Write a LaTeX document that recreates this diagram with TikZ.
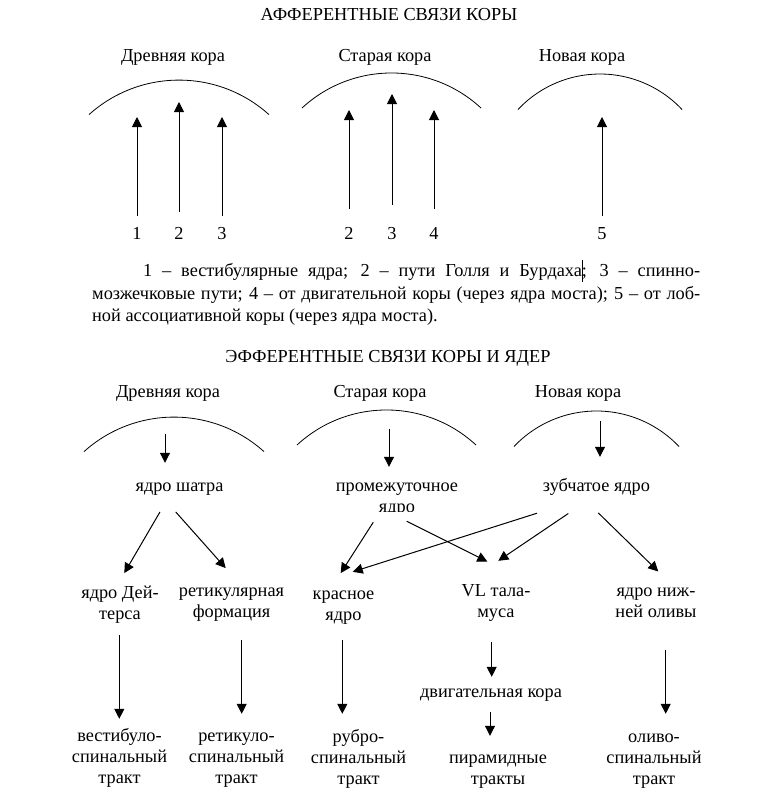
\documentclass[tikz,border=0pt]{standalone}
\usepackage{fontspec}
\setmainfont{Liberation Serif}
\usetikzlibrary{arrows.meta}
\begin{document}
\begin{tikzpicture}[x=1pt,y=-1pt,
  txt/.style={font=\fontsize{18.3}{21}\selectfont, inner sep=0pt, align=center},
  arr/.style={line width=1pt, -{Triangle[length=10pt,width=10pt]}},
  cortex/.style={line width=0.8pt}]
\useasboundingbox (0,0) rectangle (770,811);

% ---------- afferent ----------
\node[txt] (title1) at (389,16) {\strut АФФЕРЕНТНЫЕ СВЯЗИ КОРЫ};
\node[txt] (la1) at (173,57) {\strut Древняя кора};
\node[txt] (la2) at (385,57) {\strut Старая кора};
\node[txt] (la3) at (582,57) {\strut Новая кора};

\draw[cortex] (89,114.6) arc[start angle=228.04, end angle=311.96, radius=134.6];
\draw[cortex] (302,108) arc[start angle=227.27, end angle=312.73, radius=131.9];
\draw[cortex] (518,109.5) arc[start angle=223.2, end angle=316.8, radius=112.5];

\node[txt] (n11) at (137,235) {\strut 1};
\node[txt] (n12) at (179,235) {\strut 2};
\node[txt] (n13) at (222,235) {\strut 3};
\node[txt] (n21) at (349,235) {\strut 2};
\node[txt] (n22) at (392,235) {\strut 3};
\node[txt] (n23) at (434,235) {\strut 4};
\node[txt] (n31) at (602,235) {\strut 5};

\coordinate (p11) at (137,117);
\coordinate (p12) at (179,102);
\coordinate (p13) at (222,117);
\coordinate (p21) at (349,110);
\coordinate (p22) at (392,94);
\coordinate (p23) at (434,110);
\coordinate (p31) at (602,117);

\draw[arr] ([yshift=8.5pt]n11.north) -- (p11);
\draw[arr] ([yshift=12.5pt]n12.north) -- (p12);
\draw[arr] ([yshift=8.5pt]n13.north) -- (p13);
\draw[arr] ([yshift=15.5pt]n21.north) -- (p21);
\draw[arr] ([yshift=19.5pt]n22.north) -- (p22);
\draw[arr] ([yshift=15.5pt]n23.north) -- (p23);
\draw[arr] ([yshift=8.5pt]n31.north) -- (p31);

\node[txt, anchor=base west] (par1) at (92,276)
  {\makebox[608pt][s]{\hspace*{51pt}1 – вестибулярные ядра; 2 – пути Голля и Бурдаха\rlap{\rule[-6pt]{0.8pt}{22pt}}; 3 – спинно-}};
\node[txt, anchor=base west] (par2) at (92,299)
  {\makebox[608pt][s]{мозжечковые пути; 4 – от двигательной коры (через ядра моста); 5 – от лоб-}};
\node[txt, anchor=base west] (par3) at (92,321)
  {ной ассоциативной коры (через ядра моста).};

% ---------- efferent ----------
\node[txt] (title2) at (388,358) {\strut ЭФФЕРЕНТНЫЕ СВЯЗИ КОРЫ И ЯДЕР};
\node[txt] (lb1) at (168,393) {\strut Древняя кора};
\node[txt] (lb2) at (380,393) {\strut Старая кора};
\node[txt] (lb3) at (578,393) {\strut Новая кора};

\draw[cortex] (84,451.6) arc[start angle=228.04, end angle=311.96, radius=134.6];
\draw[cortex] (297,445) arc[start angle=227.27, end angle=312.73, radius=131.9];
\draw[cortex] (514,446.5) arc[start angle=223.43, end angle=316.57, radius=113.6];

\coordinate (c1) at (165,434);
\coordinate (c2) at (389,429);
\coordinate (c3) at (600,421);

\node[txt] (shatra) at (179.5,487) {\strut ядро шатра};
\begin{scope}
  \clip (300,465) rectangle (500,511);
  \node[txt] (prom) at (397,497.5) {\strut промежуточное\\\strut ядро};
\end{scope}
\node[txt] (zub) at (596.5,487) {\strut зубчатое ядро};

\draw[arr] (c1) -- ([shift={(-14.5,-13.5)}]shatra.north);
\draw[arr] (c2) -- ([shift={(-8,-9.5)}]prom.north);
\draw[arr] (c3) -- ([shift={(3.5,-19.5)}]zub.north);

\node[txt] (deiters) at (120,605) {\strut ядро Дей-\\\strut терса};
\node[txt] (retic) at (231.5,603) {\strut ретикулярная\\\strut формация};
\node[txt] (krasn) at (343.5,606) {\strut красное\\\strut ядро};
\node[txt] (vl) at (496,602.5) {\strut VL тала-\\\strut муса};
\node[txt] (oliv) at (656,602.5) {\strut ядро ниж-\\\strut ней оливы};

\draw[arr] ([shift={(-19.5,14.2)}]shatra.south) -- ([shift={(4.3,-10.7)}]deiters.north);
\draw[arr] ([shift={(-3.8,14.2)}]shatra.south) -- ([shift={(-5.8,-13.7)}]retic.north);
\draw[arr] ([shift={(-23.7,3.5)}]prom.south) -- ([shift={(-2.8,-11.7)}]krasn.north);
\draw[arr] ([shift={(9.7,2.5)}]prom.south) -- ([shift={(-8.7,-19.8)}]vl.north);
\draw[arr] ([shift={(-59.5,15.5)}]zub.south) -- ([shift={(9.2,-13)}]krasn.north);
\draw[arr] ([shift={(-28.2,15.8)}]zub.south) -- ([shift={(2.3,-20.5)}]vl.north);
\draw[arr] ([shift={(1.8,15.2)}]zub.south) -- ([shift={(2.3,-9.8)}]oliv.north);

\node[txt] (vest) at (119.5,758) {\strut вестибуло-\\\strut спинальный\\\strut тракт};
\node[txt] (reticsp) at (236.5,758) {\strut ретикуло-\\\strut спинальный\\\strut тракт};
\node[txt] (rubro) at (358.5,759) {\strut рубро-\\\strut спинальный\\\strut тракт};
\node[txt] (dvig) at (491,693) {\strut двигательная кора};
\node[txt] (pyr) at (498,770) {\strut пирамидные\\\strut тракты};
\node[txt] (olivsp) at (654,759) {\strut оливо-\\\strut спинальный\\\strut тракт};

\draw[arr] ([shift={(-0.7,9)}]deiters.south) -- ([shift={(-0.2,-7.5)}]vest.north);
\draw[arr] ([shift={(10.2,16)}]retic.south) -- ([shift={(5.2,-12.5)}]reticsp.north);
\draw[arr] ([shift={(-1.2,13)}]krasn.south) -- ([shift={(-16.2,-13.5)}]rubro.north);
\draw[arr] ([shift={(-4.3,18.5)}]vl.south) -- ([shift={(0.7,-5.5)}]dvig.north);
\draw[arr] ([shift={(-1,8.5)}]dvig.south) -- ([shift={(-8,-13)}]pyr.north);
\draw[arr] ([shift={(9.7,26.5)}]oliv.south) -- ([shift={(11.7,-13.5)}]olivsp.north);
\end{tikzpicture}
\end{document}
